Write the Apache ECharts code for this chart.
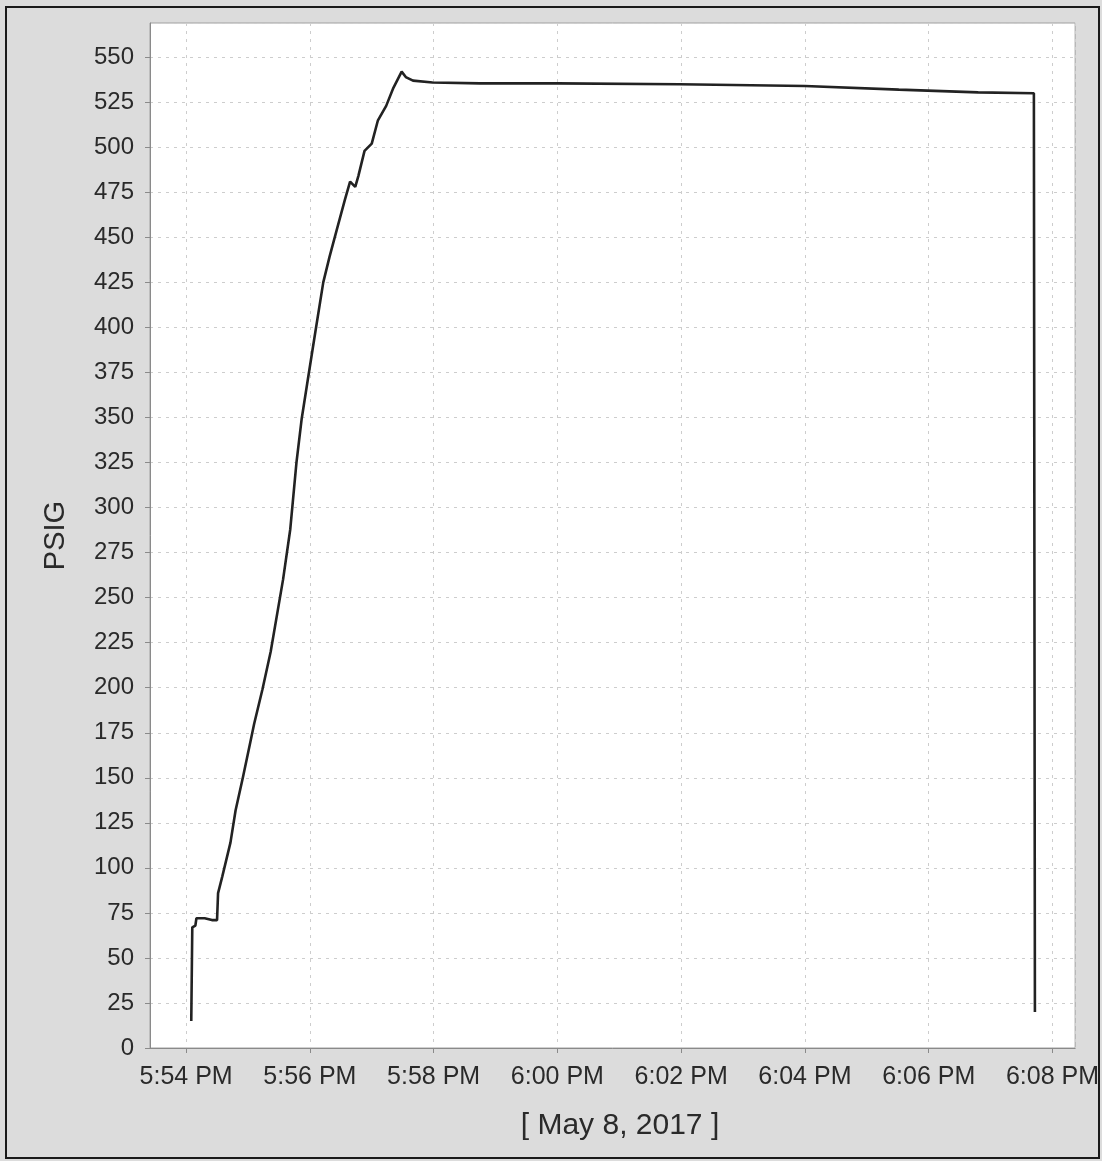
<!DOCTYPE html>
<html>
<head>
<meta charset="utf-8">
<script src="https://cdn.jsdelivr.net/npm/echarts@6/dist/echarts.min.js"></script>
<style>
html,body{margin:0;padding:0;background:#dcdcdc;}
#chart{width:1102px;height:1161px;}
</style>
</head>
<body>
<div id="chart"></div>
<script>
// Data
const times = [
  "17:54:05","17:54:06","17:54:09","17:54:10","17:54:18","17:54:25","17:54:30",
  "17:54:31","17:54:35","17:54:43","17:54:48","17:54:55","17:55:02","17:55:06",
  "17:55:14","17:55:22","17:55:34","17:55:41","17:55:47","17:55:52","17:55:58",
  "17:56:06","17:56:13","17:56:19","17:56:26","17:56:34","17:56:39","17:56:44",
  "17:56:47","17:56:53","17:57:00","17:57:06","17:57:14","17:57:21","17:57:29",
  "17:57:33","17:57:40","17:57:59","17:58:45","18:00:00","18:01:58","18:04:00",
  "18:05:31","18:06:48","18:07:42","18:07:43"
];
const psig = [
  15,67,68,72,72,71,71,
  86,95,114,132,150,169,180,
  199,220,260,288,325,349,371,
  400,425,439,454,471,481,478,
  484,498,502,515,523,533,542,
  539,537,536,535.5,535.5,535,534,
  532,530.5,530,20
];
const yTicks = [0,25,50,75,100,125,150,175,200,225,250,275,300,325,350,375,400,425,450,475,500,525,550];
const xTickLabels = ["5:54 PM","5:56 PM","5:58 PM","6:00 PM","6:02 PM","6:04 PM","6:06 PM","6:08 PM"];
const dateLabel = "[ May 8, 2017 ]";
const yName = "PSIG";

const day = "2017-05-08T";
const ts = s => new Date(day + s).getTime();
const seriesData = times.map((t, i) => [ts(t), psig[i]]);
const xMin = ts("17:53:25");
const xMax = ts("18:08:22");

function fmtTime(v) {
  const d = new Date(v);
  if (d.getSeconds() !== 0 || d.getMinutes() % 2 !== 0) return '';
  let h = d.getHours();
  const m = d.getMinutes();
  const ap = h >= 12 ? 'PM' : 'AM';
  h = h % 12; if (h === 0) h = 12;
  const s = h + ':' + (m < 10 ? '0' : '') + m + ' ' + ap;
  return xTickLabels.indexOf(s) >= 0 ? s : '';
}

const FONT = '"Liberation Sans", Arial, sans-serif';
const chart = echarts.init(document.getElementById('chart'), null, {renderer: 'canvas'});
chart.setOption({
  backgroundColor: '#dcdcdc',
  animation: false,
  textStyle: {fontFamily: FONT},
  grid: {left: 150, right: 24, top: 23, bottom: 113, show: true, backgroundColor: '#ffffff', borderColor: '#a0a0a0', borderWidth: 1},
  graphic: [
    {type: 'rect', shape: {x: 6, y: 7, width: 1093, height: 1151}, style: {fill: 'none', stroke: '#1a1a1a', lineWidth: 2}, silent: true},
    {type: 'text', x: 620, y: 1126, style: {text: dateLabel, font: '30px ' + FONT, fill: '#2a2a2a', align: 'center', verticalAlign: 'middle'}, silent: true}
  ],
  xAxis: {
    type: 'time',
    min: xMin,
    max: xMax,
    minInterval: 130000,
    maxInterval: 170000,
    axisLine: {show: true, lineStyle: {color: '#8a8a8a', width: 1}},
    axisTick: {show: true, length: 5, lineStyle: {color: '#8a8a8a'}},
    axisLabel: {formatter: fmtTime, color: '#2a2a2a', fontSize: 25, margin: 17, showMinLabel: false, showMaxLabel: false, hideOverlap: false},
    splitLine: {show: true, lineStyle: {color: '#cdcdcd', type: [3, 5], width: 1}}
  },
  yAxis: {
    type: 'value',
    min: 0,
    max: 569,
    interval: 25,
    name: yName,
    nameLocation: 'middle',
    nameGap: 80,
    nameRotate: 90,
    nameTextStyle: {fontSize: 29, color: '#2a2a2a'},
    axisLine: {show: true, lineStyle: {color: '#8a8a8a', width: 1}},
    axisTick: {show: true, length: 5, lineStyle: {color: '#8a8a8a'}},
    axisLabel: {
      color: '#2a2a2a', fontSize: 24, margin: 16, showMaxLabel: false,
      formatter: v => (yTicks.indexOf(v) >= 0 ? String(v) : '')
    },
    splitLine: {show: true, lineStyle: {color: '#cdcdcd', type: [3, 5], width: 1}}
  },
  series: [{
    type: 'line',
    data: seriesData,
    showSymbol: false,
    smooth: false,
    lineStyle: {color: '#222222', width: 2.6},
    z: 5
  }]
});
</script>
</body>
</html>
